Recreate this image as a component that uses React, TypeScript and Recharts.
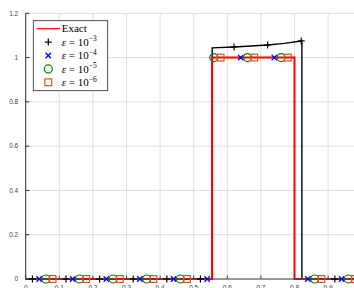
import React from "react"
import { ComposedChart, Line, Scatter, XAxis, YAxis, CartesianGrid } from "recharts"

const xTicks = [0, 0.1, 0.2, 0.3, 0.4, 0.5, 0.6, 0.7, 0.8, 0.9, 1]
const yTicks = [0, 0.2, 0.4, 0.6, 0.8, 1, 1.2]

// exact solution (step)
const exactX = [0, 0.555, 0.555, 0.8, 0.8, 1]
const exactY = [0, 0, 1, 1, 0, 0]

// eps = 1e-3 solution curve
const curveX = [0, 0.555, 0.555, 0.62, 0.67, 0.72, 0.77, 0.82, 0.822, 0.822, 1]
const curveY = [0, 0, 1.044, 1.048, 1.052, 1.057, 1.064, 1.075, 1.076, 0, 0]

const eps3X = [0.02, 0.12, 0.22, 0.32, 0.42, 0.52, 0.62, 0.72, 0.82, 0.92]
const eps3Y = [0, 0, 0, 0, 0, 0, 1.048, 1.057, 1.075, 0]

const eps4X = [0.04, 0.14, 0.24, 0.34, 0.44, 0.54, 0.64, 0.74, 0.84, 0.94]
const eps4Y = [0, 0, 0, 0, 0, 0, 1, 1, 0, 0]

const eps5X = [0.06, 0.16, 0.26, 0.36, 0.46, 0.56, 0.66, 0.76, 0.86, 0.96]
const eps5Y = [0, 0, 0, 0, 0, 1, 1, 1, 0, 0]

const eps6X = [0.08, 0.18, 0.28, 0.38, 0.48, 0.58, 0.68, 0.78, 0.88, 0.98]
const eps6Y = [0, 0, 0, 0, 0, 1, 1, 1, 0, 0]

const zip = (xs: number[], ys: number[]) => xs.map((x, i) => ({ x, y: ys[i] }))

const RED = "#ff0000"
const BLUE = "#0000ff"
const GREEN = "#008000"
const ORANGE = "#d95319"

const Plus = (p: any) => (
  <g stroke="#000" strokeWidth={1.2}>
    <line x1={p.cx - 3.5} x2={p.cx + 3.5} y1={p.cy} y2={p.cy} />
    <line x1={p.cx} x2={p.cx} y1={p.cy - 3.5} y2={p.cy + 3.5} />
  </g>
)
const Cross = (p: any) => (
  <g stroke={BLUE} strokeWidth={1.3}>
    <line x1={p.cx - 2.7} x2={p.cx + 2.7} y1={p.cy - 2.7} y2={p.cy + 2.7} />
    <line x1={p.cx - 2.7} x2={p.cx + 2.7} y1={p.cy + 2.7} y2={p.cy - 2.7} />
  </g>
)
const Circle = (p: any) => (
  <circle cx={p.cx} cy={p.cy} r={4} fill="none" stroke={GREEN} strokeWidth={1.2} />
)
const Square = (p: any) => (
  <rect x={p.cx - 3.4} y={p.cy - 3.4} width={6.8} height={6.8} fill="none" stroke={ORANGE} strokeWidth={1.2} />
)

const tickStyle = { fontSize: 6.5, fill: "#404040", fontFamily: "Liberation Sans, Arial, sans-serif" }

const legendRows = ["-3", "-4", "-5", "-6"]
const legendMarkers = [Plus, Cross, Circle, Square]

const Legend = () => {
  const rowY = [28.7, 42.1, 55.5, 68.9, 82.3]
  const font = { fontFamily: "Liberation Serif, Times New Roman, serif", fontSize: 11, fill: "#000" }
  return (
    <svg width={354} height={288} style={{ position: "absolute", left: 0, top: 0, pointerEvents: "none" }}>
      <rect x={33.3} y={20.7} width={74.4} height={70} fill="#fff" stroke="#262626" strokeWidth={0.8} />
      <line x1={36.7} x2={60} y1={rowY[0]} y2={rowY[0]} stroke={RED} strokeWidth={1.2} />
      <text x={61.7} y={rowY[0] + 3.7} {...font}>Exact</text>
      {legendRows.map((exp, i) => {
        const M = legendMarkers[i]
        const y = rowY[i + 1]
        return (
          <g key={exp}>
            <M cx={48.3} cy={y} />
            <text x={61.7} y={y + 3.7} {...font}>
              <tspan fontStyle="italic">ε</tspan>
              <tspan> = 10</tspan>
              <tspan dy={-4.5} fontSize={7.5}>{exp.replace("-", "−")}</tspan>
            </text>
          </g>
        )
      })}
    </svg>
  )
}

export default function App() {
  return (
    <div style={{ position: "absolute", left: 0, top: 0, width: 354, height: 288, overflow: "hidden", background: "#fff" }}>
      <ComposedChart width={370} height={288} margin={{ top: 13.3, right: 8.3, bottom: 0, left: 0 }}>
        <CartesianGrid stroke="#dedede" strokeWidth={1} />
        <XAxis
          dataKey="x"
          type="number"
          domain={[0, 1]}
          ticks={xTicks}
          height={9}
          tickSize={-3.5}
          tickMargin={9.5}
          tick={tickStyle}
          stroke="#444"
        />
        <XAxis
          xAxisId="top"
          orientation="top"
          dataKey="x"
          type="number"
          domain={[0, 1]}
          ticks={xTicks}
          height={0}
          tickSize={-3.5}
          tick={false}
          stroke="#444"
        />
        <YAxis
          dataKey="y"
          type="number"
          domain={[0, 1.2]}
          ticks={yTicks}
          width={25.7}
          tickSize={-3.5}
          tickMargin={11}
          tick={tickStyle}
          stroke="#333"
        />
        <Line data={zip(curveX, curveY)} dataKey="y" type="linear" stroke="#000" strokeWidth={1.4} dot={false} isAnimationActive={false} />
        <Line data={zip(exactX, exactY)} dataKey="y" type="linear" stroke={RED} strokeWidth={2} dot={false} isAnimationActive={false} />
        <Scatter data={zip(eps3X, eps3Y)} dataKey="y" shape={Plus} isAnimationActive={false} />
        <Scatter data={zip(eps4X, eps4Y)} dataKey="y" shape={Cross} isAnimationActive={false} />
        <Scatter data={zip(eps5X, eps5Y)} dataKey="y" shape={Circle} isAnimationActive={false} />
        <Scatter data={zip(eps6X, eps6Y)} dataKey="y" shape={Square} isAnimationActive={false} />
      </ComposedChart>
      <Legend />
    </div>
  )
}
